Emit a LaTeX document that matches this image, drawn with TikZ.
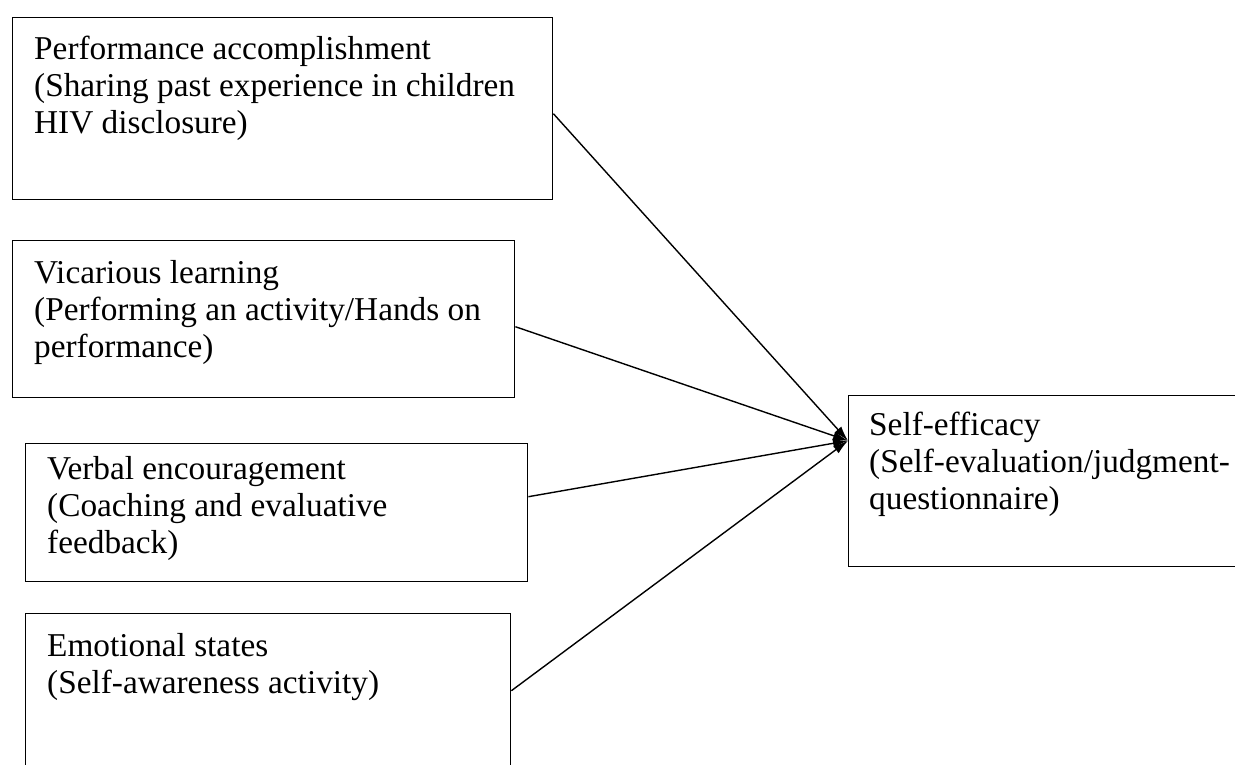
\documentclass[tikz,border=0pt]{standalone}
\usepackage{fontspec}
\setmainfont{Liberation Serif}
\usetikzlibrary{arrows.meta}
\begin{document}
\begin{tikzpicture}[x=1pt,y=-1pt,
  box/.style={draw, line width=1.4pt, rectangle, inner sep=0pt, anchor=north west},
  txt/.style={anchor=north west, align=left, inner sep=0pt, font=\fontsize{33.3}{37}\selectfont},
  conn/.style={line width=1.4pt, -{Latex[length=15pt,width=9pt]}}]
\useasboundingbox (0,0) rectangle (1235,764);
\node[box, minimum width=540pt, minimum height=182pt] (b1) at (12,17) {};
\node[box, minimum width=502pt, minimum height=157pt] (b2) at (12,240) {};
\node[box, minimum width=502pt, minimum height=138pt] (b3) at (25,443) {};
\node[box, minimum width=485pt, minimum height=160pt] (b4) at (25,613) {};
\node[box, minimum width=397pt, minimum height=171pt] (b5) at (848,395) {};
\node[txt] (t1) at (34,36) {Performance accomplishment\\(Sharing past experience in children\\HIV disclosure)};
\node[txt] (t2) at (34,260) {Vicarious learning\\(Performing an activity/Hands on\\performance)};
\node[txt] (t3) at (47,456) {Verbal encouragement\\(Coaching and evaluative\\feedback)};
\node[txt] (t4) at (47,633) {Emotional states\\(Self-awareness activity)};
\node[txt] (t5) at (869,412) {Self-efficacy\\(Self-evaluation/judgment-\\questionnaire)};
\coordinate (tip) at ([yshift=40.5pt]b5.west);
\draw[conn] ([yshift=-5pt]b1.east) -- (tip);
\draw[conn] ([yshift=-7.5pt]b2.east) -- (tip);
\draw[conn] ([yshift=16pt]b3.east) -- (tip);
\draw[conn] ([yshift=3pt]b4.east) -- (tip);
\end{tikzpicture}
\end{document}
